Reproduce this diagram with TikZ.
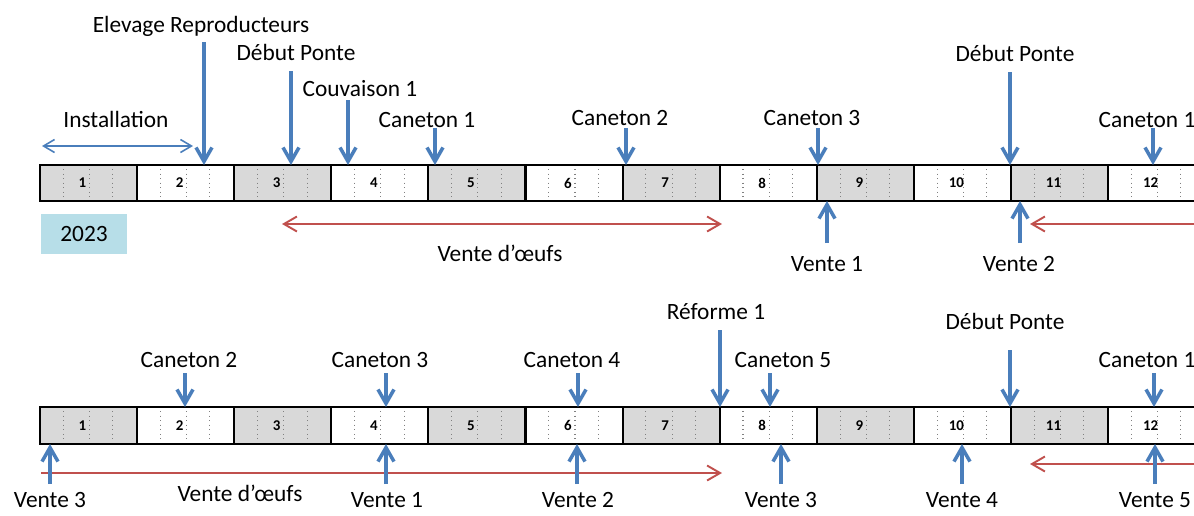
\documentclass[tikz,border=0pt]{standalone}
\usepackage{fontspec}
\setmainfont{Carlito}
\usetikzlibrary{arrows.meta}
\definecolor{pblue}{HTML}{4A7EBB}
\definecolor{pred}{HTML}{C0504D}
\definecolor{pgray}{HTML}{D9D9D9}
\definecolor{pyear}{HTML}{B7DEE8}

\begin{document}
\begin{tikzpicture}[x=0.02cm, y=-0.02cm,
    month/.style={rectangle, draw=black, line width=1.2pt, minimum width=1.942cm, minimum height=0.73cm, inner sep=0pt},
    num/.style={font=\fontsize{8.5}{9}\selectfont\bfseries, inner sep=0pt},
    tick/.style={dotted, gray, line width=0.6pt},
    lbl/.style={font=\fontsize{13.3}{16}\selectfont, anchor=base, inner sep=0pt},
    arr/.style={pblue, line width=2pt, -{Straight Barb[length=2.8mm, width=3.2mm]}},
    span/.style={pblue, line width=0.9pt, {Straight Barb[length=2.2mm, width=2.6mm]}-{Straight Barb[length=2.2mm, width=2.6mm]}},
    sale/.style={pred, line width=1.1pt, -{Straight Barb[length=2.6mm, width=3mm]}},
    sale2/.style={sale, {Straight Barb[length=2.6mm, width=3mm]}-{Straight Barb[length=2.6mm, width=3mm]}},
    year/.style={rectangle, fill=pyear, minimum width=1.72cm, minimum height=0.8cm, font=\fontsize{13.3}{16}\selectfont},
  ]
  \useasboundingbox (0,0) rectangle (1194,515);
  \clip (0,0) rectangle (1194,515);

  % months, first year
  \foreach \i in {1,...,12} {
    \pgfmathsetmacro\xl{40+97.1*(\i-1)}
    \ifodd\i \def\mfill{pgray}\else \def\mfill{white}\fi
    \node[month, fill=\mfill] (a\i) at (\xl+48.55,183) {};
    \foreach \f in {0.24,0.51,0.75}
      \draw[tick] (\xl+97.1*\f,169) -- (\xl+97.1*\f,197);
    \node[num] (na\i) at (\xl+42.5,183) {\i};
  }

  % months, second year
  \foreach \i in {1,...,12} {
    \pgfmathsetmacro\xl{40+97.1*(\i-1)}
    \ifodd\i \def\mfill{pgray}\else \def\mfill{white}\fi
    \node[month, fill=\mfill] (b\i) at (\xl+48.55,425.5) {};
    \foreach \f in {0.24,0.51,0.75}
      \draw[tick] (\xl+97.1*\f,411) -- (\xl+97.1*\f,440);
    \node[num] (nb\i) at (\xl+42.5,425.5) {\i};
  }

  \node[year] (yr) at (84,234) {2023\hspace{0.25cm}};

  % events above the first bar
  \node[lbl] (elev) at (201,32) {Elevage Reproducteurs};
  \node[lbl] (ponteA) at (296,60) {Début Ponte};
  \node[lbl] (couv) at (360,96) {Couvaison 1};
  \node[lbl] (inst) at (116,127) {Installation};
  \node[lbl] (canA1) at (427,127) {Caneton 1};
  \node[lbl] (canA2) at (620,125) {Caneton 2};
  \node[lbl] (canA3) at (812,125) {Caneton 3};
  \node[lbl] (ponteB) at (1015,61) {Début Ponte};
  \node[lbl] (canA4) at (1147,127) {Caneton 1};

  \foreach \n/\x/\y in {elev/204/42, ponteA/291/71, couv/348/100, canA1/435/128,
      canA2/626/128, canA3/818/128, ponteB/1010/72, canA4/1153/128} {
    \coordinate (\n-top) at (\x,\y);
    \coordinate (\n-bar) at (\x,165);
    \draw[arr] (\n-top) -- (\n-bar);
  }

  \coordinate (inst-l) at (42,146);
  \coordinate (inst-r) at (193,146);
  \draw[span] (inst-l) -- (inst-r);

  % sales under the first bar
  \node[lbl] (venA1) at (827,271) {Vente 1};
  \node[lbl] (venA2) at (1019,271) {Vente 2};
  \node[lbl] (oeufA) at (500,261) {Vente d’œufs};

  \foreach \n/\x in {venA1/827, venA2/1020} {
    \coordinate (\n-low) at (\x,243);
    \coordinate (\n-bar) at (\x,201);
    \draw[arr] (\n-low) -- (\n-bar);
  }

  \coordinate (oeufA-l) at (282,224);
  \coordinate (oeufA-r) at (722,224);
  \draw[sale2] (oeufA-l) -- (oeufA-r);
  \coordinate (nextA-r) at (1210,224);
  \coordinate (nextA-l) at (1030,224);
  \draw[sale] (nextA-r) -- (nextA-l);

  % events above the second bar
  \node[lbl] (refo) at (716,319) {Réforme 1};
  \node[lbl] (ponteC) at (1005,329) {Début Ponte};
  \node[lbl] (canB2) at (189,367) {Caneton 2};
  \node[lbl] (canB3) at (380,367) {Caneton 3};
  \node[lbl] (canB4) at (572,367) {Caneton 4};
  \node[lbl] (canB5) at (783,367) {Caneton 5};
  \node[lbl] (canB1) at (1147,367) {Caneton 1};

  \foreach \n/\x/\y in {refo/720/330, ponteC/1010/350, canB2/185/373, canB3/386/373,
      canB4/578/373, canB5/770/373, canB1/1154/373} {
    \coordinate (\n-top) at (\x,\y);
    \coordinate (\n-bar) at (\x,407);
    \draw[arr] (\n-top) -- (\n-bar);
  }

  % sales under the second bar
  \node[lbl] (venB3) at (50,507) {Vente 3};
  \node[lbl] (venB1) at (387,507) {Vente 1};
  \node[lbl] (venB2) at (578,507) {Vente 2};
  \node[lbl] (venB3b) at (781,507) {Vente 3};
  \node[lbl] (venB4) at (962,507) {Vente 4};
  \node[lbl] (venB5) at (1155,507) {Vente 5};
  \node[lbl] (oeufB) at (240,501) {Vente d’œufs};

  \coordinate (oeufB-l) at (41,473);
  \coordinate (oeufB-r) at (722,473);
  \draw[sale] (oeufB-l) -- (oeufB-r);
  \coordinate (nextB-r) at (1210,464);
  \coordinate (nextB-l) at (1030,464);
  \draw[sale] (nextB-r) -- (nextB-l);

  \foreach \n/\x in {venB3/50, venB1/386, venB2/577, venB3b/781, venB4/962, venB5/1155} {
    \coordinate (\n-low) at (\x,484);
    \coordinate (\n-bar) at (\x,444);
    \draw[arr] (\n-low) -- (\n-bar);
  }
\end{tikzpicture}
\end{document}
